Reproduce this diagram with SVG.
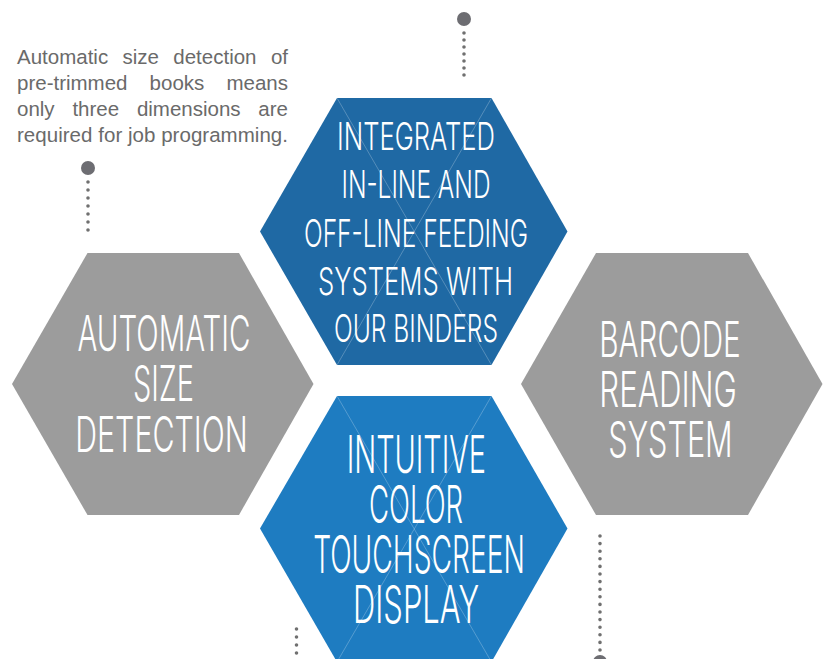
<svg xmlns="http://www.w3.org/2000/svg" width="829" height="659" viewBox="0 0 829 659">
<style>
.gray{fill:#9c9c9c}
.blueA{fill:#1f69a4}
.blueB{fill:#1e7cc1}
.xl{stroke:#ffffff;stroke-opacity:0.35;stroke-width:0.7;fill:none}
.hx{font-family:"Inter","Lato","DejaVu Sans",sans-serif;font-weight:300;fill:#ffffff;text-anchor:middle}
.t1{font-size:38.5px}
.t2{font-size:52px}
.t3{font-size:49.5px}
.para{font-family:"Liberation Sans",Arial,sans-serif;font-size:20.5px;fill:#6a6a6a}
.dots{stroke:#707070;stroke-width:3.6;stroke-linecap:round;fill:none}
.pin{fill:#6d6d72}
</style>
<rect width="829" height="659" fill="#ffffff"/>

<g id="para">
<text class="para" y="63.5"><tspan x="17">Automatic</tspan><tspan x="122.5">size</tspan><tspan x="173.3">detection</tspan><tspan x="288" text-anchor="end">of</tspan></text>
<text class="para" y="89.5"><tspan x="17">pre-trimmed</tspan><tspan x="149.6">books</tspan><tspan x="288" text-anchor="end">means</tspan></text>
<text class="para" y="115.5"><tspan x="17">only</tspan><tspan x="72.4">three</tspan><tspan x="136.9">dimensions</tspan><tspan x="288" text-anchor="end">are</tspan></text>
<text class="para" x="17" y="141.5" textLength="271" lengthAdjust="spacing">required for job programming.</text>
</g>

<g id="hex-left">
<polygon class="gray" points="12,384 87.5,253 239,253 313.5,384 239,515 87.5,515"/>
<text class="hx t3" x="164" y="350.7" textLength="173" lengthAdjust="spacingAndGlyphs">AUTOMATIC</text>
<text class="hx t3" x="163.5" y="401" textLength="61" lengthAdjust="spacingAndGlyphs">SIZE</text>
<text class="hx t3" x="161.5" y="451.7" textLength="172.5" lengthAdjust="spacingAndGlyphs">DETECTION</text>
</g>

<g id="hex-right">
<polygon class="gray" points="521,384 596,253 748,253 822.5,384 748,515 596,515"/>
<text class="hx t3" x="670" y="356.7" textLength="141.4" lengthAdjust="spacingAndGlyphs">BARCODE</text>
<text class="hx t3" x="668" y="406.7" textLength="137.4" lengthAdjust="spacingAndGlyphs">READING</text>
<text class="hx t3" x="670.5" y="457.3" textLength="124.4" lengthAdjust="spacingAndGlyphs">SYSTEM</text>
</g>

<g id="hex-top">
<polygon class="blueA" points="260,231.5 337,98 491.5,98 567.5,231.5 491.5,365 337,365"/>
<line class="xl" x1="337" y1="98" x2="491.5" y2="365"/>
<line class="xl" x1="491.5" y1="98" x2="337" y2="365"/>
<text class="hx t1" x="416" y="150" textLength="158" lengthAdjust="spacingAndGlyphs">INTEGRATED</text>
<text class="hx t1" x="416" y="198" textLength="149" lengthAdjust="spacingAndGlyphs">IN-LINE AND</text>
<text class="hx t1" x="416" y="246.7" textLength="224" lengthAdjust="spacingAndGlyphs">OFF-LINE FEEDING</text>
<text class="hx t1" x="415.5" y="295" textLength="195" lengthAdjust="spacingAndGlyphs">SYSTEMS WITH</text>
<text class="hx t1" x="416" y="342" textLength="164" lengthAdjust="spacingAndGlyphs">OUR BINDERS</text>
</g>

<g id="hex-bottom">
<polygon class="blueB" points="260,528.5 337,396 491.5,396 567.5,528.5 491.5,662 337,662"/>
<line class="xl" x1="337" y1="396" x2="491.5" y2="662"/>
<line class="xl" x1="491.5" y1="396" x2="337" y2="662"/>
<text class="hx t2" x="416.3" y="472.7" textLength="139.3" lengthAdjust="spacingAndGlyphs">INTUITIVE</text>
<text class="hx t2" x="416" y="523.3" textLength="94" lengthAdjust="spacingAndGlyphs">COLOR</text>
<text class="hx t2" x="419" y="573.3" textLength="211.7" lengthAdjust="spacingAndGlyphs">TOUCHSCREEN</text>
<text class="hx t2" x="416" y="623" textLength="126" lengthAdjust="spacingAndGlyphs">DISPLAY</text>
</g>

<g id="connectors">
<circle class="pin" cx="464" cy="19" r="7"/>
<line class="dots" x1="464" y1="33" x2="464" y2="76" stroke-dasharray="0 7"/>
<circle class="pin" cx="88" cy="168" r="7"/>
<line class="dots" x1="88" y1="182" x2="88" y2="231" stroke-dasharray="0 8"/>
<line class="dots" x1="296.5" y1="629" x2="296.5" y2="654" stroke-dasharray="0 8"/>
<line class="dots" x1="600" y1="536" x2="600" y2="650" stroke-dasharray="0 7.6"/>
<circle class="pin" cx="600" cy="662" r="7"/>
</g>
</svg>
